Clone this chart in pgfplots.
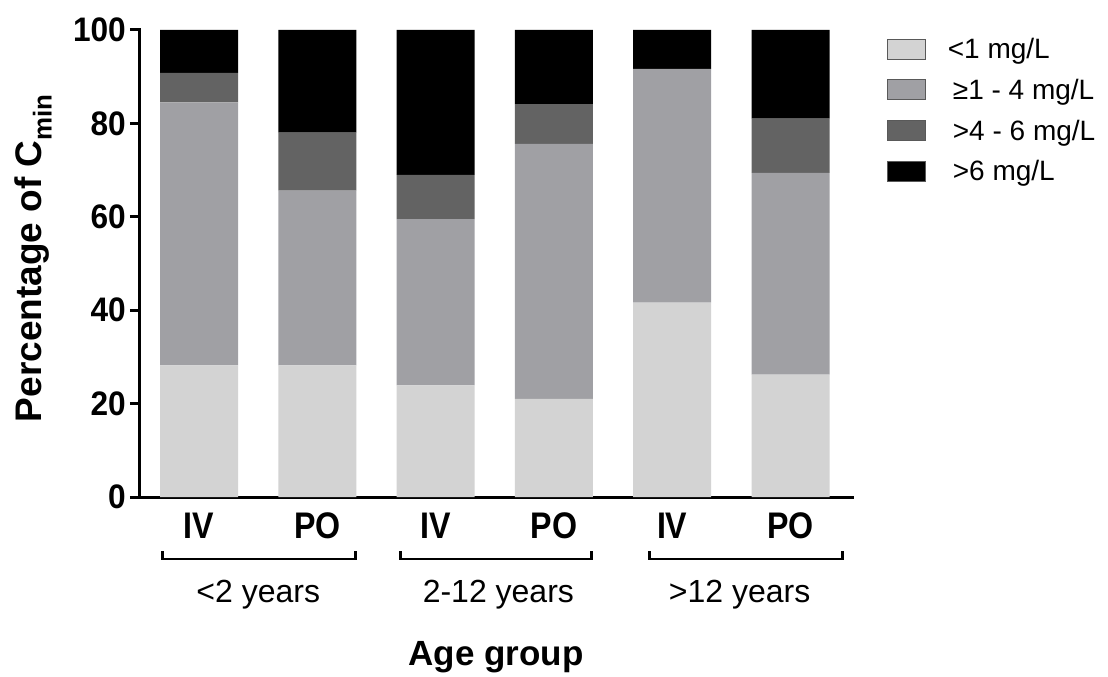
\documentclass[border=0pt]{standalone}
\usepackage{pgfplots}
\pgfplotsset{compat=1.18}
\usepackage{fontspec}
\setmainfont{Liberation Sans}
\newfontfamily\tickfont{Liberation Sans}[FakeStretch=0.93]
\newfontfamily\ivfont{Liberation Sans}[FakeStretch=0.87]
\definecolor{cA}{HTML}{D3D3D3}
\definecolor{cB}{HTML}{A0A0A4}
\definecolor{cC}{HTML}{636363}
\definecolor{cD}{HTML}{000000}
\pgfplotsset{lg/.style={legend image code/.code={\draw[##1, draw=gray!70!black, line width=0.8pt] (0pt,-10pt) rectangle (38pt,10pt);}}}
\begin{document}
\begin{tikzpicture}
\begin{axis}[name=ax,
  width=712pt, height=467pt, scale only axis,
  xmin=-0.5, xmax=5.52, ymin=0, ymax=100,
  ybar stacked, bar width=78pt,
  axis lines*=left,
  axis line style={line width=3pt, line cap=rect},
  ytick={0,20,40,60,80,100},
  tick align=outside, major tick length=10pt,
  ytick style={line width=3pt, black},
  xtick={0,1,2,3,4,5}, xticklabels={IV,PO,IV,PO,IV,PO},
  xtick style={draw=none},
  /pgf/number format/assume math mode=true,
  yticklabel style={font=\fontsize{34}{34}\selectfont\tickfont\bfseries, inner sep=4pt},
  xticklabel style={font=\fontsize{37}{37}\selectfont\ivfont\bfseries, anchor=base, yshift=-31pt},
  clip=false,
  ylabel={Percentage of C\textsubscript{min}},
  ylabel style={font=\fontsize{37}{37}\selectfont\bfseries, at={(axis description cs:-0.15,0.512)}, anchor=center},
  xlabel={Age group},
  xlabel style={font=\fontsize{35}{35}\selectfont\bfseries, at={(axis description cs:0.5,0)}, anchor=base, yshift=-168pt},
  legend style={draw=none, fill=none, at={(axis description cs:1.049,0.983)}, anchor=north west,
    font=\fontsize{28}{28}\selectfont, row sep=19pt, column sep=22pt, inner sep=0pt,
    nodes={inner sep=0pt}},
  legend cell align=left,
]
\addplot[fill=cA, draw=none, lg] coordinates {(0,28.2) (1,28.2) (2,23.9) (3,21.0) (4,41.6) (5,26.2)};
\addplot[fill=cB, draw=none, lg] coordinates {(0,56.3) (1,37.4) (2,35.6) (3,54.6) (4,50.1) (5,43.2)};
\addplot[fill=cC, draw=none, lg] coordinates {(0,6.3) (1,12.4) (2,9.5) (3,8.5) (4,0) (5,11.6)};
\addplot[fill=cD, draw=none, lg] coordinates {(0,9.2) (1,22.0) (2,31.0) (3,15.9) (4,8.3) (5,19.0)};
\legend{<1 mg/L, \hspace{5pt}≥1 - 4 mg/L, \hspace{5pt}>4 - 6 mg/L, \hspace{5pt}>6 mg/L}
\draw[line width=2.8pt] ([yshift=-54pt]axis cs:-0.31,0) -- ([yshift=-62pt]axis cs:-0.31,0) -- ([yshift=-62pt]axis cs:1.32,0) -- ([yshift=-54pt]axis cs:1.32,0);
\draw[line width=2.8pt] ([yshift=-54pt]axis cs:1.70,0) -- ([yshift=-62pt]axis cs:1.70,0) -- ([yshift=-62pt]axis cs:3.32,0) -- ([yshift=-54pt]axis cs:3.32,0);
\draw[line width=2.8pt] ([yshift=-54pt]axis cs:3.81,0) -- ([yshift=-62pt]axis cs:3.81,0) -- ([yshift=-62pt]axis cs:5.44,0) -- ([yshift=-54pt]axis cs:5.44,0);
\node[font=\fontsize{32}{32}\selectfont, anchor=base] at ([yshift=-105pt]axis cs:0.5,0) {<2 years};
\node[font=\fontsize{32}{32}\selectfont, anchor=base] at ([yshift=-105pt]axis cs:2.53,0) {2-12 years};
\node[font=\fontsize{32}{32}\selectfont, anchor=base] at ([yshift=-105pt]axis cs:4.57,0) {>12 years};
\end{axis}
\path ([xshift=-140pt,yshift=497pt]ax.south west) rectangle ([xshift=968pt,yshift=-180pt]ax.south west);
\end{tikzpicture}
\end{document}
